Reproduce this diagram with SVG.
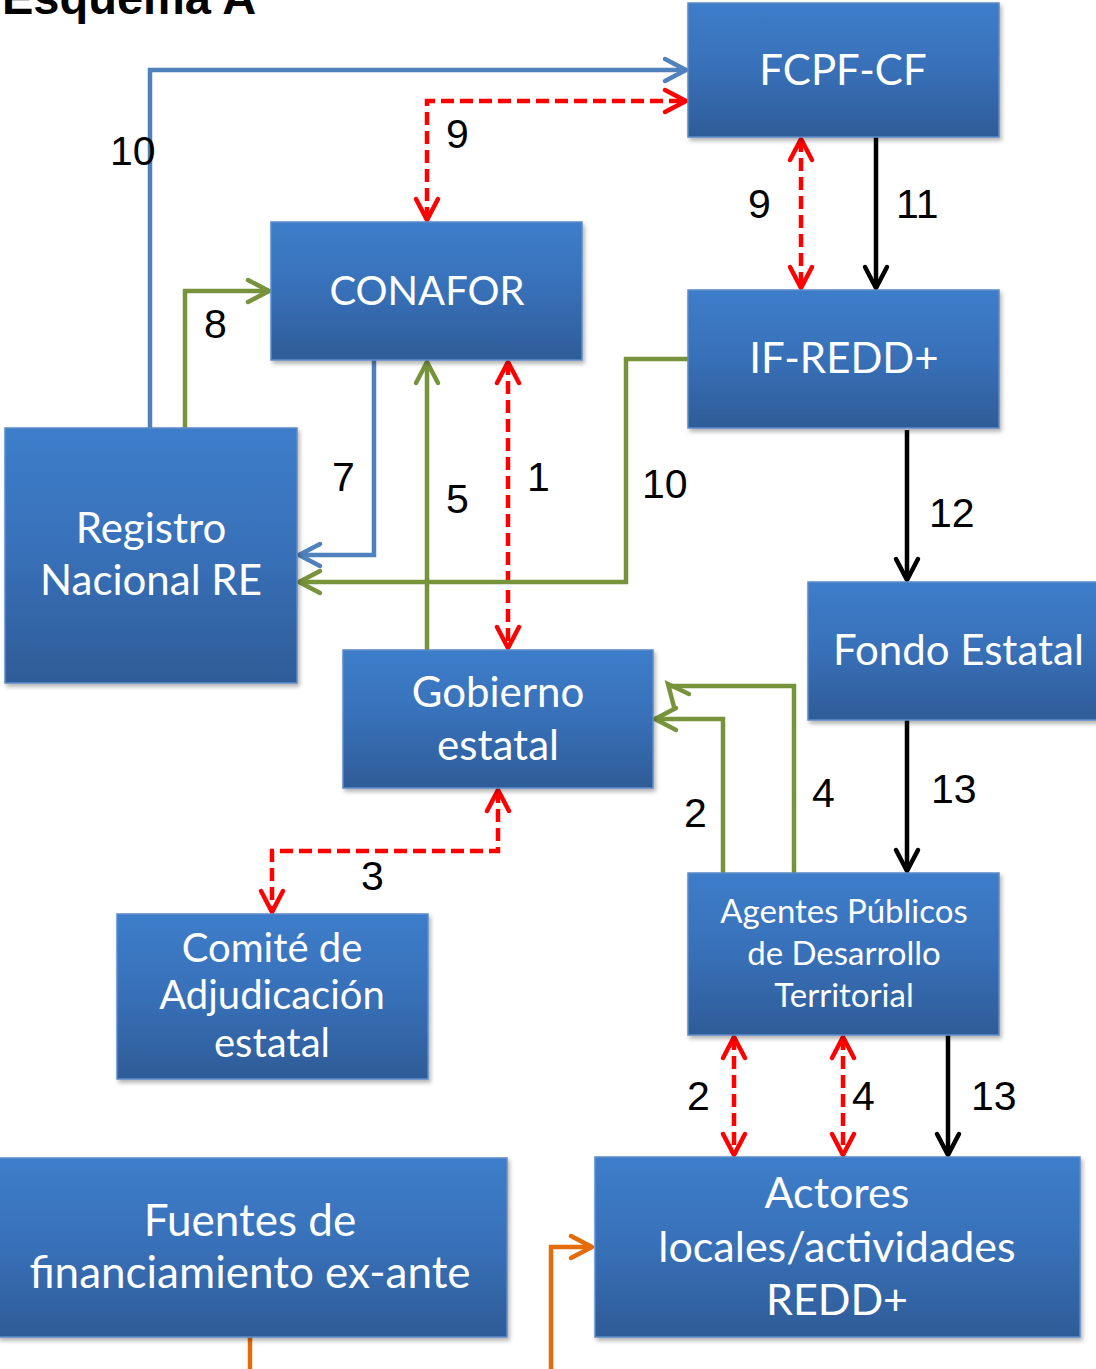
<svg xmlns="http://www.w3.org/2000/svg" width="1096" height="1369" viewBox="0 0 1096 1369">
<style>
.box{fill:url(#bg);stroke:#5B8BC8;stroke-width:1.5;filter:url(#sh)}
.bt{font-family:Lato,"Open Sans","Liberation Sans",sans-serif;font-size:42px;fill:#fff;text-anchor:middle}
.lb{font-family:"Liberation Sans",Arial,sans-serif;font-size:41px;fill:#000}
.c{fill:none;stroke-width:4.5;stroke-linejoin:miter}
.blue{stroke:#4F81BD}
.green{stroke:#77933C}
.red{stroke:#FF0000;stroke-dasharray:13 6}
.black{stroke:#000}
.orange{stroke:#E46C0A}
</style>
<defs>
<linearGradient id="bg" x1="0" y1="0" x2="0" y2="1">
<stop offset="0" stop-color="#3D7DCA"/>
<stop offset="0.5" stop-color="#3870B8"/>
<stop offset="1" stop-color="#2E5C97"/>
</linearGradient>
<filter id="sh" x="-10%" y="-10%" width="130%" height="130%">
<feDropShadow dx="2" dy="3" stdDeviation="2" flood-color="#000" flood-opacity="0.3"/>
</filter>
<marker id="mBlue" markerUnits="userSpaceOnUse" viewBox="-25 -15 30 30" refX="0" refY="0" markerWidth="30" markerHeight="30" orient="auto-start-reverse"><path d="M-21,-11 L0,0 L-21,11" fill="none" stroke="#4F81BD" stroke-width="4.5" stroke-linecap="round" stroke-linejoin="round"/></marker>
<marker id="mGreen" markerUnits="userSpaceOnUse" viewBox="-25 -15 30 30" refX="0" refY="0" markerWidth="30" markerHeight="30" orient="auto-start-reverse"><path d="M-21,-11 L0,0 L-21,11" fill="none" stroke="#77933C" stroke-width="4.5" stroke-linecap="round" stroke-linejoin="round"/></marker>
<marker id="mRed" markerUnits="userSpaceOnUse" viewBox="-25 -15 30 30" refX="0" refY="0" markerWidth="30" markerHeight="30" orient="auto-start-reverse"><path d="M-21,-11 L0,0 L-21,11" fill="none" stroke="#FF0000" stroke-width="4.5" stroke-linecap="round" stroke-linejoin="round"/></marker>
<marker id="mBlack" markerUnits="userSpaceOnUse" viewBox="-25 -15 30 30" refX="0" refY="0" markerWidth="30" markerHeight="30" orient="auto-start-reverse"><path d="M-21,-11 L0,0 L-21,11" fill="none" stroke="#000" stroke-width="4.5" stroke-linecap="round" stroke-linejoin="round"/></marker>
<marker id="mOrange" markerUnits="userSpaceOnUse" viewBox="-25 -15 30 30" refX="0" refY="0" markerWidth="30" markerHeight="30" orient="auto-start-reverse"><path d="M-21,-11 L0,0 L-21,11" fill="none" stroke="#E46C0A" stroke-width="4.5" stroke-linecap="round" stroke-linejoin="round"/></marker>
</defs>
<rect width="1096" height="1369" fill="#fff"/>
<text x="2" y="14" font-family="'Liberation Sans',Arial,sans-serif" font-size="47" font-weight="bold" fill="#000">Esquema A</text>

<g id="connectors">
<path class="c blue" d="M150,428 V70 H686" marker-end="url(#mBlue)"/>
<path class="c red" d="M427,220 V101 H686" marker-start="url(#mRed)" marker-end="url(#mRed)"/>
<path class="c red" d="M801,139 V288" marker-start="url(#mRed)" marker-end="url(#mRed)"/>
<path class="c black" d="M876,137 V288" marker-end="url(#mBlack)"/>
<path class="c green" d="M185,428 V291 H269" marker-end="url(#mGreen)"/>
<path class="c blue" d="M374,360 V555 H299" marker-end="url(#mBlue)"/>
<path class="c green" d="M427,650 V362" marker-end="url(#mGreen)"/>
<path class="c red" d="M508,362 V648" marker-start="url(#mRed)" marker-end="url(#mRed)"/>
<path class="c green" d="M688,359 H626 V582 H299" marker-end="url(#mGreen)"/>
<path class="c black" d="M907,430 V580" marker-end="url(#mBlack)"/>
<path class="c black" d="M907,720 V871" marker-end="url(#mBlack)"/>
<path class="c green" d="M723,873 V719 H655" marker-end="url(#mGreen)"/>
<path class="c green" d="M794,873 V686 H668"/>
<path class="c green" d="M689,694 L668,684 L674,707" stroke-linecap="round" stroke-linejoin="round"/>
<path class="c red" d="M498,790 V851 H272 V912" marker-start="url(#mRed)" marker-end="url(#mRed)"/>
<path class="c red" d="M734,1037 V1155" marker-start="url(#mRed)" marker-end="url(#mRed)"/>
<path class="c red" d="M843,1037 V1155" marker-start="url(#mRed)" marker-end="url(#mRed)"/>
<path class="c black" d="M948,1035 V1155" marker-end="url(#mBlack)"/>
<path class="c orange" d="M250,1337 V1369"/>
<path class="c orange" d="M551,1369 V1247 H592" marker-end="url(#mOrange)"/>
</g>

<g id="labels">
<text class="lb" x="110" y="165">10</text>
<text class="lb" x="446" y="148">9</text>
<text class="lb" x="204" y="338">8</text>
<text class="lb" x="301" y="336">6</text>
<text class="lb" x="748" y="218">9</text>
<text class="lb" x="896" y="218">11</text>
<text class="lb" x="332" y="491">7</text>
<text class="lb" x="446" y="513">5</text>
<text class="lb" x="527" y="491">1</text>
<text class="lb" x="642" y="498">10</text>
<text class="lb" x="929" y="527">12</text>
<text class="lb" x="931" y="803">13</text>
<text class="lb" x="812" y="807">4</text>
<text class="lb" x="684" y="827">2</text>
<text class="lb" x="361" y="890">3</text>
<text class="lb" x="687" y="1110">2</text>
<text class="lb" x="852" y="1110">4</text>
<text class="lb" x="971" y="1110">13</text>
</g>

<g id="fcpf"><rect class="box" x="688" y="3" width="311" height="134"/><text class="bt" x="843" y="85">FCPF-CF</text></g>
<g id="ifredd"><rect class="box" x="688" y="290" width="311" height="138"/><text class="bt" x="844" y="373">IF-REDD+</text></g>
<g id="conafor"><rect class="box" x="271" y="222" width="311" height="138"/><text class="bt" x="427" y="305" style="font-size:40px">CONAFOR</text></g>
<g id="registro"><rect class="box" x="5" y="428" width="292" height="255"/><text class="bt" x="151" y="543">Registro</text><text class="bt" x="151" y="595">Nacional RE</text></g>
<g id="gobierno"><rect class="box" x="343" y="650" width="310" height="138"/><text class="bt" x="498" y="707">Gobierno</text><text class="bt" x="498" y="760">estatal</text></g>
<g id="fondo"><rect class="box" x="808" y="582" width="300" height="138"/><text class="bt" x="833" y="665" style="text-anchor:start">Fondo Estatal</text></g>
<g id="comite"><rect class="box" x="117" y="914" width="311" height="165"/><text class="bt" x="272" y="962" style="font-size:40px">Comité de</text><text class="bt" x="272" y="1009" style="font-size:40px">Adjudicación</text><text class="bt" x="272" y="1057" style="font-size:40px">estatal</text></g>
<g id="agentes"><rect class="box" x="688" y="873" width="311" height="162"/><text class="bt" x="844" y="923" style="font-size:33px">Agentes Públicos</text><text class="bt" x="844" y="965" style="font-size:33px">de Desarrollo</text><text class="bt" x="844" y="1007" style="font-size:33px">Territorial</text></g>
<g id="fuentes"><rect class="box" x="-2" y="1158" width="509" height="179"/><text class="bt" x="250" y="1236" style="font-size:44px">Fuentes de</text><text class="bt" x="250" y="1288" style="font-size:44px">financiamiento ex-ante</text></g>
<g id="actores"><rect class="box" x="595" y="1157" width="485" height="180"/><text class="bt" x="837" y="1208" style="font-size:43px">Actores</text><text class="bt" x="837" y="1262" style="font-size:43px">locales/actividades</text><text class="bt" x="837" y="1315" style="font-size:43px">REDD+</text></g>
</svg>
